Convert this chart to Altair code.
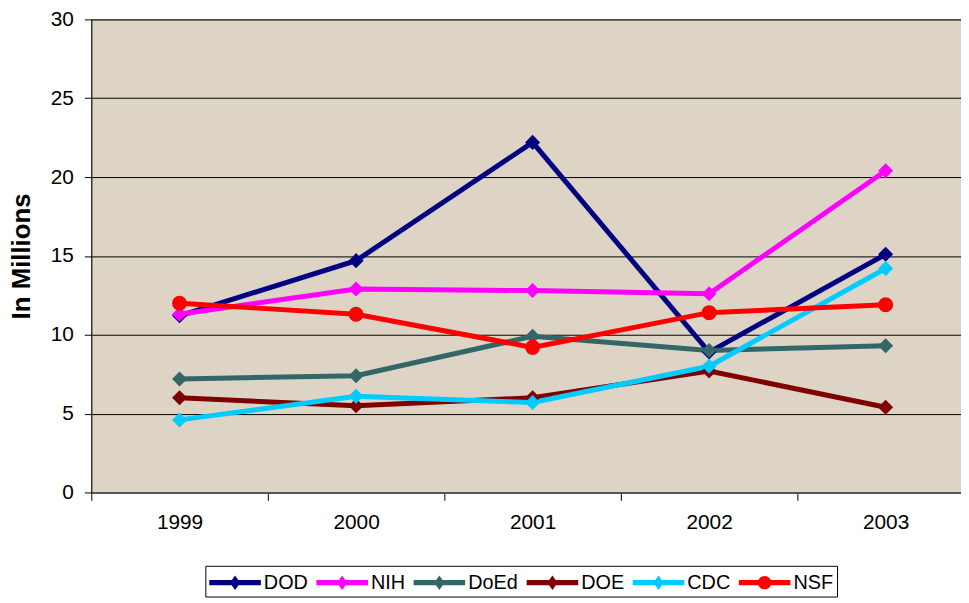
import altair as alt
import pandas as pd

years = ["1999", "2000", "2001", "2002", "2003"]
series = ["DOD", "NIH", "DoEd", "DOE", "CDC", "NSF"]
colors = ["#000080", "#FF00FF", "#336666", "#800000", "#00CCFF", "#FF0000"]
dod = [11.2, 14.7, 22.2, 8.9, 15.1]
nih = [11.3, 12.9, 12.8, 12.6, 20.4]
doed = [7.2, 7.4, 9.9, 9.0, 9.3]
doe = [6.0, 5.5, 6.0, 7.7, 5.4]
cdc = [4.6, 6.1, 5.7, 8.0, 14.2]
nsf = [12.0, 11.3, 9.2, 11.4, 11.9]
markers = ["diamond", "diamond", "diamond", "diamond", "diamond", "circle"]

values = [dod, nih, doed, doe, cdc, nsf]
rows = []
for s, vals in zip(series, values):
    for y, v in zip(years, vals):
        rows.append({"Year": y, "Agency": s, "Value": v})
df = pd.DataFrame(rows)

FONT = "Liberation Sans"

DIAMOND_PATH = ("M-1,-0.2 L3,-0.2 L3,0.2 L-1,0.2 Z "
                "M0.6,0 L1,-0.56 L1.4,0 L1,0.56 Z")
CIRCLE_PATH = ("M-1,-0.2 L3,-0.2 L3,0.2 L-1,0.2 Z "
               "M0.48,0 A0.52,0.52 0 1,1 1.52,0 A0.52,0.52 0 1,1 0.48,0 Z")
legend_shapes = [DIAMOND_PATH] * 5 + [CIRCLE_PATH]

x_enc = alt.X(
    "Year:O",
    scale=alt.Scale(type="band", paddingInner=0, paddingOuter=0, range=[0, 890]),
    bandPosition=0.5,
    axis=alt.Axis(
        title=None, tickBand="extent", labelAngle=0, labelFontSize=21,
        labelFont=FONT, labelColor="black", tickSize=8, tickColor="black",
        labelPadding=11, domainColor="#555555", domainWidth=2,
        grid=False,
    ),
)
y_enc = alt.Y(
    "Value:Q",
    scale=alt.Scale(domain=[0, 30], nice=False),
    axis=alt.Axis(
        title="In Millions", titleFontSize=26, titleFont=FONT,
        titleFontWeight="bold", titleColor="black", titlePadding=16,
        values=[0, 5, 10, 15, 20, 25, 30], labelFontSize=21, labelFont=FONT,
        labelColor="black", tickSize=7, tickColor="black", labelPadding=11,
        domainColor="black", gridColor="black", gridWidth=1, gridOpacity=1,
    ),
)

lines = alt.Chart(df).mark_line(strokeWidth=5).encode(
    x=x_enc, y=y_enc,
    color=alt.Color("Agency:N", scale=alt.Scale(domain=series, range=colors), legend=None),
)

points = alt.Chart(df).mark_point(filled=True, opacity=1, size=230).encode(
    x=x_enc, y=y_enc,
    color=alt.Color("Agency:N", scale=alt.Scale(domain=series, range=colors), legend=None),
    shape=alt.Shape("Agency:N", scale=alt.Scale(domain=series, range=markers), legend=None),
)

leg = alt.Legend(
    title=None, orient="none", legendX=115, legendY=551,
    direction="horizontal", labelFontSize=20, labelFont=FONT,
    labelColor="black", symbolSize=676, symbolStrokeWidth=0,
    labelOffset=29, columnPadding=8, padding=4,
    strokeColor="black", fillColor="white",
)

legend_layer = alt.Chart(df).transform_filter("false").mark_point(
    filled=True, opacity=1
).encode(
    x=x_enc, y=y_enc,
    color=alt.Color("Agency:N", scale=alt.Scale(domain=series, range=colors), legend=leg),
    shape=alt.Shape("Agency:N", scale=alt.Scale(domain=series, range=legend_shapes), legend=leg),
)

chart = alt.layer(lines, points, legend_layer).resolve_scale(
    color="independent", shape="independent"
).properties(
    width=877, height=477,
    autosize=alt.AutoSizeParams(type="none"),
    padding={"left": 84, "top": 9, "right": 0, "bottom": 108},
).configure(
    background="white",
).configure_view(
    fill="#ddd4c6", stroke="#888888", strokeWidth=1,
)

chart.save("out.html", embed_options={"renderer": "svg", "actions": False})
